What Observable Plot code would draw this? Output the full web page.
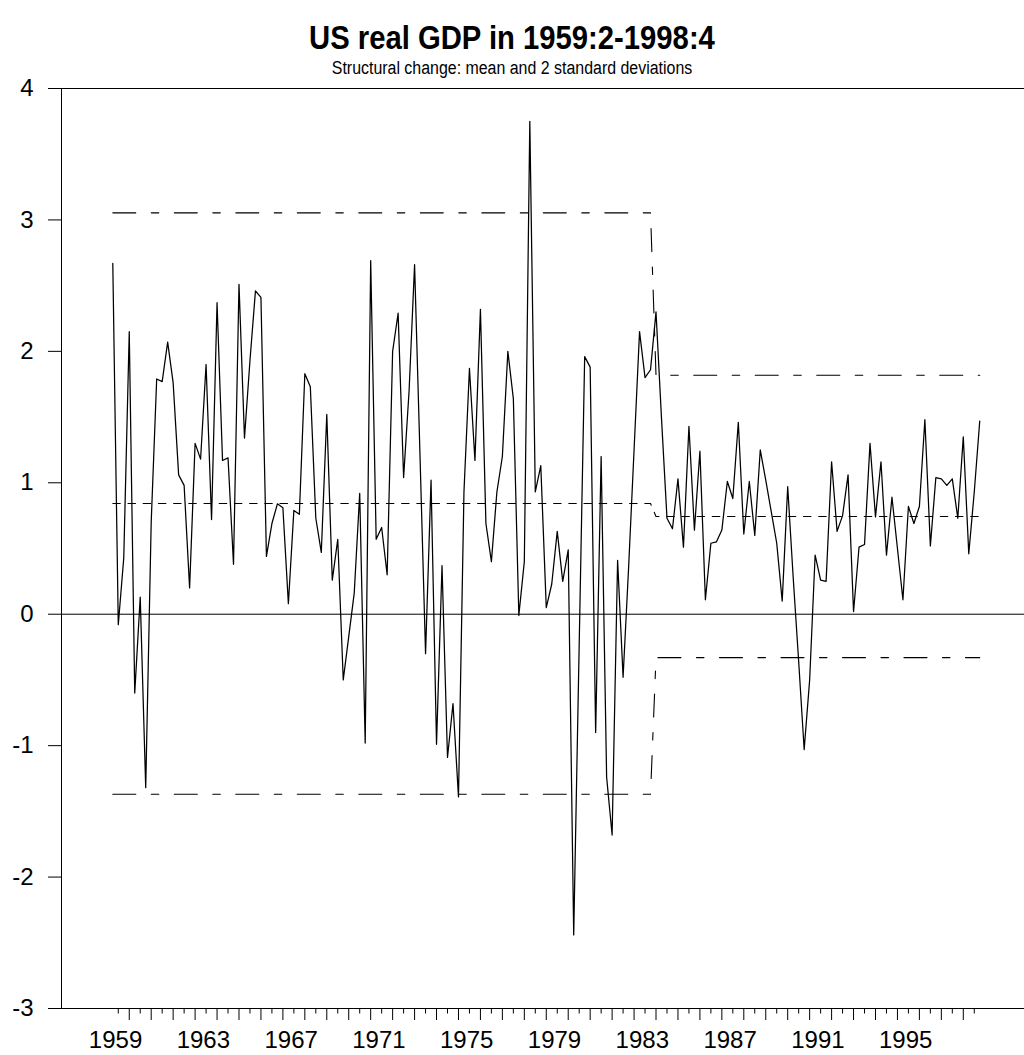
<!DOCTYPE html>
<html>
<head>
<meta charset="utf-8">
<script src="https://cdn.jsdelivr.net/npm/d3@7"></script>
<script src="https://cdn.jsdelivr.net/npm/@observablehq/plot@0.6"></script>
<style>
  html, body { margin: 0; padding: 0; background: #fff; }
  body { width: 1024px; height: 1055px; position: relative; overflow: hidden;
         font-family: "Liberation Sans", Arial, Helvetica, sans-serif; color: #000; }
  #title { position: absolute; top: 18px; left: 0; width: 1024px; text-align: center;
           font-weight: bold; font-size: 34px; line-height: 38px;
           transform: scaleX(0.86); transform-origin: 512px 0; }
  #subtitle { position: absolute; top: 57px; left: 0; width: 1024px; text-align: center;
              font-size: 18px; line-height: 22px;
              transform: scaleX(0.885); transform-origin: 512px 0; }
  #chart { position: absolute; top: 78px; left: 0; }
</style>
</head>
<body>
<div id="title">US real GDP in 1959:2-1998:4</div>
<div id="subtitle">Structural change: mean and 2 standard deviations</div>
<div id="chart"></div>
<script>
// ---- data (quarterly growth, %) ----
const startYear = 1959;
const startQuarter = 2;
const growth = [
  2.67, -0.08, 0.43, 2.15, -0.60, 0.13, -1.32, 0.70, 1.79, 1.77,
  2.07, 1.76, 1.06, 0.98, 0.20, 1.30, 1.18, 1.90, 0.72, 2.37,
  1.17, 1.19, 0.38, 2.51, 1.34, 1.93, 2.46, 2.41, 0.44, 0.69,
  0.84, 0.81, 0.08, 0.79, 0.76, 1.83, 1.73, 0.73, 0.47, 1.52,
  0.26, 0.57, -0.50, -0.17, 0.16, 0.92, -0.98, 2.69, 0.57, 0.66,
  0.30, 2.00, 2.29, 1.04, 1.70, 2.66, 1.19, -0.30, 1.02, -0.99,
  0.37, -1.09, -0.68, -1.39, 0.93, 1.87, 1.17, 2.32, 0.69, 0.40,
  0.93, 1.20, 2.00, 1.64, -0.01, 0.40, 3.75, 0.93, 1.13, 0.05,
  0.23, 0.63, 0.25, 0.49, -2.44, -0.23, 1.96, 1.88, -0.90, 1.20,
  -1.24, -1.68, 0.41, -0.48, 0.35, 1.25, 2.15, 1.80, 1.86, 2.30,
  1.49, 0.73, 0.65, 1.03, 0.51, 1.43, 0.64, 1.24, 0.11, 0.54,
  0.55, 0.64, 1.01, 0.88, 1.46, 0.61, 1.01, 0.60, 1.25, 1.02,
  0.78, 0.54, 0.10, 0.97, 0.28, -0.36, -1.03, -0.50, 0.45, 0.26,
  0.25, 1.16, 0.63, 0.75, 1.06, 0.02, 0.51, 0.53, 1.30, 0.74,
  1.16, 0.45, 0.89, 0.50, 0.11, 0.82, 0.69, 0.82, 1.48, 0.52,
  1.04, 1.03, 0.98, 1.03, 0.73, 1.35, 0.46, 0.93, 1.47
];

// ---- structural change regimes ----
const regimeNames = ["1959:2-1983:4", "1984:1-1998:4"];
const regimeLength = [99, 60];
const regimeMean = [0.842, 0.744];
const regimeSD = [1.106, 0.537];

// ---- axes ----
const yTicks = [-3, -2, -1, 0, 1, 2, 3, 4];
const yearLabels = [1959, 1963, 1967, 1971, 1975, 1979, 1983, 1987, 1991, 1995];
const xDomain = [1956.913, 2000.789];
const yDomain = [-3, 4];

// ---- build tables ----
const quarterTime = i => startYear + (startQuarter - 1) / 4 + i / 4;
const series = growth.map((v, i) => ({t: quarterTime(i), v}));
const regimeOf = [];
regimeLength.forEach((n, r) => { for (let k = 0; k < n; k++) regimeOf.push(r); });
const bands = growth.map((_, i) => {
  const r = regimeOf[i];
  return {
    t: quarterTime(i),
    mean: regimeMean[r],
    upper: regimeMean[r] + 2 * regimeSD[r],
    lower: regimeMean[r] - 2 * regimeSD[r]
  };
});
const lastT = quarterTime(growth.length - 1);
const firstT = quarterTime(0);
const halfYearTicks = d3.range(Math.ceil(firstT * 2) / 2, lastT, 0.5).filter(t => t > firstT);
const shortTicks = halfYearTicks.filter(t => t % 1 !== 0);
const longTicks = halfYearTicks.filter(t => t % 1 === 0);
const labelPos = yearLabels.map(y => y + 0.375);

const chart = Plot.plot({
  width: 1024,
  height: 977,
  marginLeft: 61,
  marginRight: 0,
  marginTop: 10,
  marginBottom: 47,
  style: {fontFamily: "'Liberation Sans', Arial, Helvetica, sans-serif", fontSize: "24px", background: "#fff", overflow: "visible"},
  x: {domain: xDomain, axis: null},
  y: {domain: yDomain, axis: null},
  marks: [
    Plot.ruleY([yDomain[1], yDomain[0]], {stroke: "#000", strokeWidth: 1}),
    Plot.ruleY([0], {stroke: "#000", strokeWidth: 1}),
    Plot.ruleX([xDomain[0]], {stroke: "#000", strokeWidth: 1}),
    Plot.axisY({ticks: yTicks, tickSize: 13, tickPadding: 15, fontSize: 24, label: null, tickFormat: d => String(d)}),
    Plot.axisX({ticks: shortTicks, tickSize: 5.5, tickFormat: () => "", label: null, anchor: "bottom"}),
    Plot.axisX({ticks: longTicks, tickSize: 12, tickFormat: () => "", label: null, anchor: "bottom"}),
    Plot.axisX({ticks: labelPos, tickSize: 0, tickPadding: 22, fontSize: 24, label: null, anchor: "bottom",
                tickFormat: (d, i) => String(yearLabels[i])}),
    Plot.line(bands, {x: "t", y: "upper", stroke: "#000", strokeWidth: 1.1, strokeDasharray: "23,15.5,7.5,15.5"}),
    Plot.line(bands, {x: "t", y: "lower", stroke: "#000", strokeWidth: 1.1, strokeDasharray: "23,15.5,7.5,15.5"}),
    Plot.line(bands, {x: "t", y: "mean", stroke: "#000", strokeWidth: 1.1, strokeDasharray: "7.5,7.7"}),
    Plot.line(series, {x: "t", y: "v", stroke: "#000", strokeWidth: 1.25})
  ]
});
document.getElementById("chart").appendChild(chart);
</script>
</body>
</html>
